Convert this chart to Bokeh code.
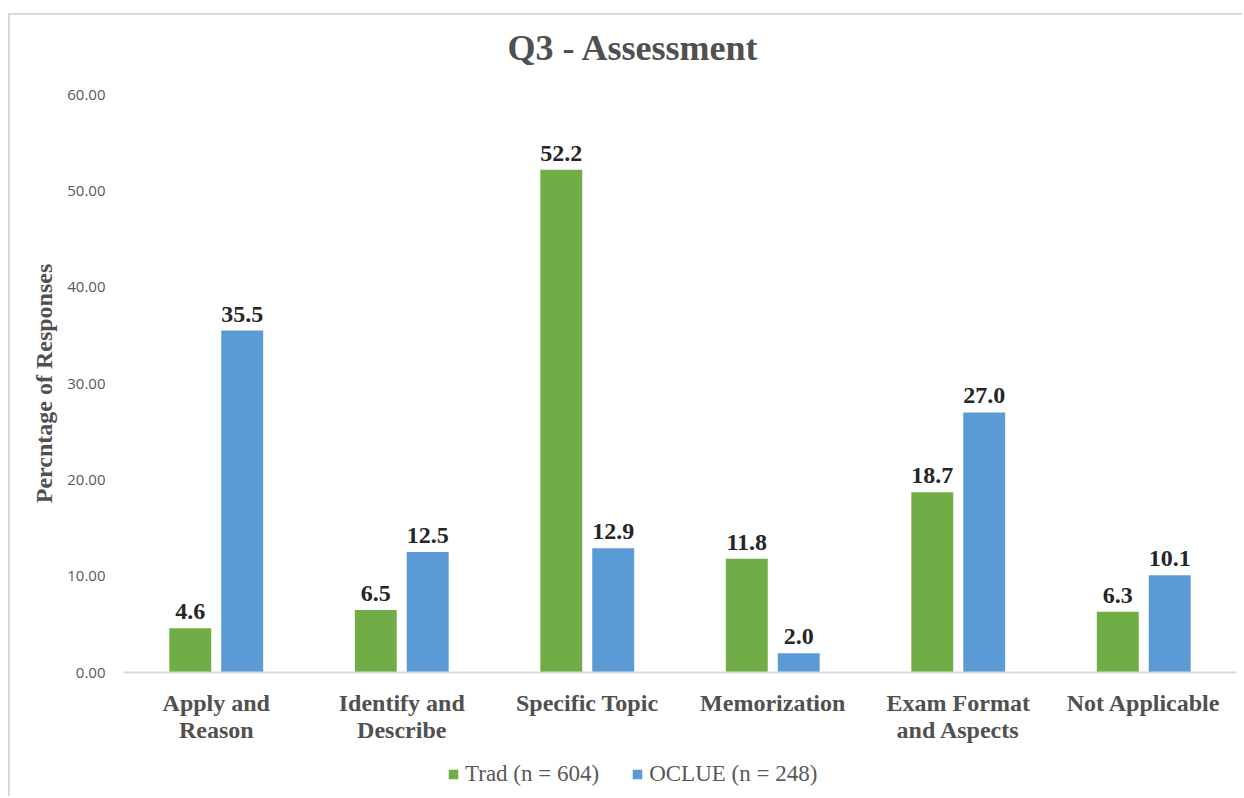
from bokeh.plotting import figure
from bokeh.layouts import column
from bokeh.models import (FactorRange, Range1d, ColumnDataSource, LabelSet, Legend, LegendItem,
                          NumeralTickFormatter, Title, FixedTicker)
from bokeh.transform import dodge
from bokeh.embed import file_html
from bokeh.resources import INLINE

categories = ["Apply and\nReason", "Identify and\nDescribe", "Specific Topic",
              "Memorization", "Exam Format\nand Aspects", "Not Applicable"]
trad = [4.6, 6.5, 52.2, 11.8, 18.7, 6.3]
oclue = [35.5, 12.5, 12.9, 2.0, 27.0, 10.1]
series_names = ["Trad (n = 604)", "OCLUE (n = 248)"]
y_ticks = [0, 10, 20, 30, 40, 50, 60]

GREEN = "#70AD47"
BLUE = "#5B9BD5"
SERIF = "Liberation Serif"
BORDER = "2px solid #D9D9D9"

src = ColumnDataSource(dict(
    cat=categories, trad=trad, oclue=oclue,
    trad_lbl=[f"{v:.1f}" for v in trad],
    oclue_lbl=[f"{v:.1f}" for v in oclue],
))

p = figure(width=1234, height=735, x_range=FactorRange(factors=categories, range_padding=0),
           y_range=Range1d(0, 60), output_backend="svg", toolbar_location=None,
           min_border_left=113, min_border_right=8, min_border_top=79, min_border_bottom=78)
p.styles = {"border-left": BORDER, "border-top": BORDER}
p.margin = (13, 0, 0, 8)
p.outline_line_color = None
p.xgrid.grid_line_color = None
p.ygrid.grid_line_color = None
p.background_fill_color = "white"
p.border_fill_color = "white"

bw = 0.226
r1 = p.vbar(x=dodge("cat", -0.14, range=p.x_range), top="trad", width=bw, source=src,
            fill_color=GREEN, line_color=None)
r2 = p.vbar(x=dodge("cat", 0.14, range=p.x_range), top="oclue", width=bw, source=src,
            fill_color=BLUE, line_color=None)

for col, lbl, off in (("trad", "trad_lbl", -0.14), ("oclue", "oclue_lbl", 0.14)):
    ls = LabelSet(x=dodge("cat", off, range=p.x_range), y=col, text=lbl, source=src,
                  y_offset=9, text_align="center", text_baseline="bottom",
                  text_font=SERIF, text_font_style="bold", text_font_size="24px",
                  text_color="#262626")
    p.add_layout(ls)

# y axis
p.yaxis.ticker = FixedTicker(ticks=y_ticks)
p.yaxis.formatter = NumeralTickFormatter(format="0.00")
p.yaxis.axis_line_color = None
p.yaxis.major_tick_line_color = None
p.yaxis.minor_tick_line_color = None
p.yaxis.major_tick_out = 0
p.yaxis.minor_tick_out = 0
p.yaxis.major_label_text_font = "Open Sans"
p.yaxis.major_label_text_font_size = "15px"
p.yaxis.major_label_text_color = "#595959"
p.yaxis.major_label_standoff = 18
p.yaxis.axis_label = "Percntage of Responses"
p.yaxis.axis_label_text_font = SERIF
p.yaxis.axis_label_text_font_style = "bold"
p.yaxis.axis_label_text_font_size = "24px"
p.yaxis.axis_label_text_color = "#505050"
p.yaxis.axis_label_standoff = 7

# x axis
p.xaxis.axis_line_color = "#D9D9D9"
p.xaxis.axis_line_width = 2
p.xaxis.major_tick_line_color = None
p.xaxis.minor_tick_line_color = None
p.xaxis.major_tick_out = 0
p.xaxis.minor_tick_out = 0
p.xaxis.major_label_text_font = SERIF
p.xaxis.major_label_text_font_style = "bold"
p.xaxis.major_label_text_font_size = "24px"
p.xaxis.major_label_text_line_height = 1.05
p.xaxis.major_label_text_color = "#505050"
p.xaxis.major_label_standoff = 17

# title
p.title.text = "Q3 - Assessment"
p.title.align = "left"
p.title.offset = 384
p.title.text_font = SERIF
p.title.text_font_style = "bold"
p.title.text_font_size = "36px"
p.title.text_color = "#505050"
p.add_layout(Title(text=" ", text_font_size="9px"), "above")

# legend strip below the chart
pl = figure(width=1234, height=48, x_range=Range1d(0, 1), y_range=Range1d(0, 1),
            output_backend="svg", toolbar_location=None, min_border=0,
            x_axis_type=None, y_axis_type=None)
pl.styles = {"border-left": BORDER}
pl.margin = (0, 0, 0, 8)
pl.outline_line_color = None
pl.xgrid.grid_line_color = None
pl.ygrid.grid_line_color = None
# zero-height swatch renderers (only their legend glyphs are seen)
l1 = pl.vbar(x=[0.5], top=[0], bottom=[0], width=0.01, fill_color=GREEN, line_color=None)
l2 = pl.vbar(x=[0.5], top=[0], bottom=[0], width=0.01, fill_color=BLUE, line_color=None)
legend = Legend(items=[LegendItem(label=series_names[0], renderers=[l1]),
                       LegendItem(label=series_names[1], renderers=[l2])],
                orientation="horizontal", location=(324, 9),
                glyph_width=12, glyph_height=12, label_text_font=SERIF,
                label_text_font_size="23px", label_text_color="#595959",
                spacing=32, padding=2, margin=0, border_line_color=None,
                background_fill_alpha=0, label_standoff=6)
pl.add_layout(legend, "center")

layout = column(p, pl, spacing=0)
open("out.html", "w").write(file_html(layout, INLINE))
